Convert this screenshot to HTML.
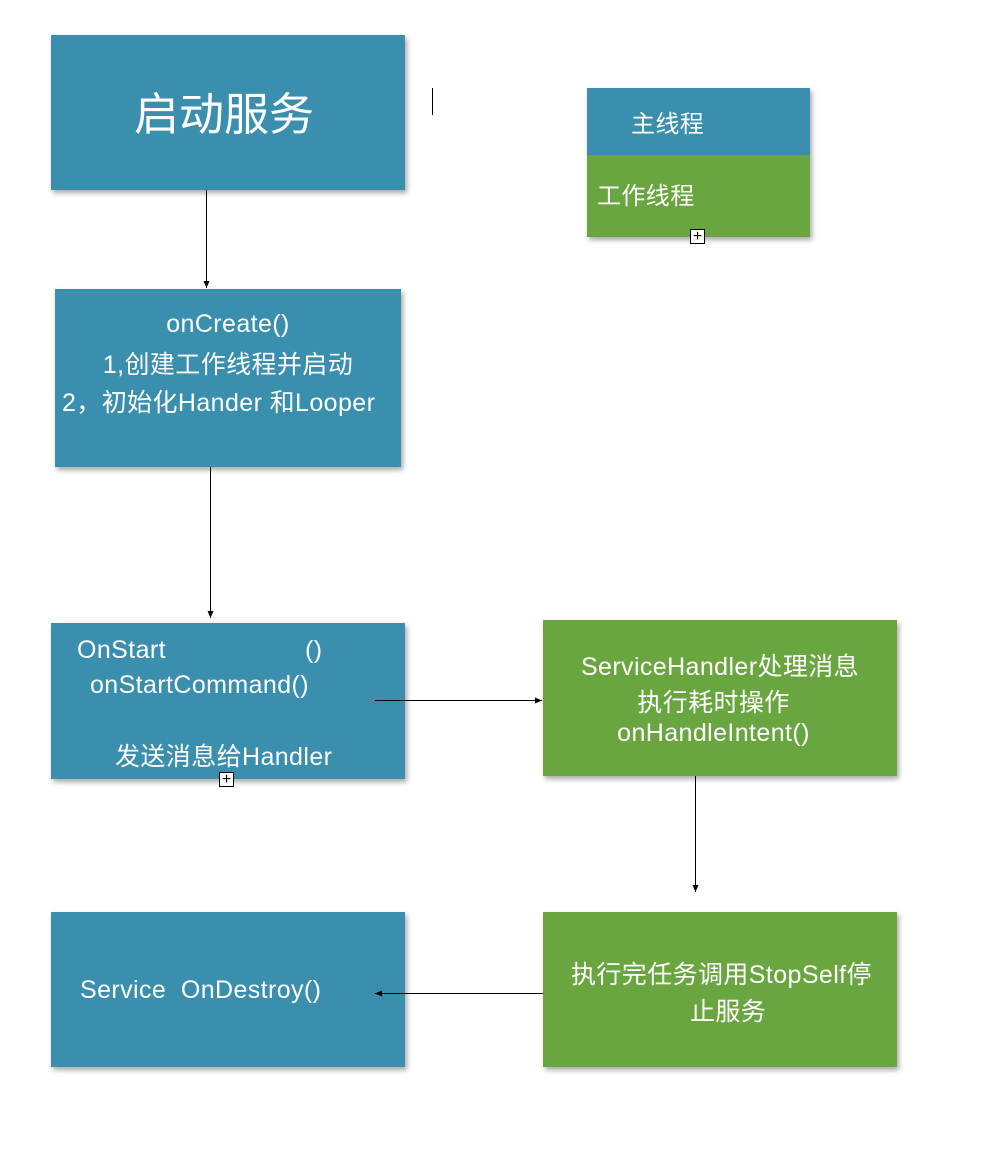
<!DOCTYPE html>
<html><head><meta charset="utf-8"><style>
body{margin:0;width:1000px;height:1174px;background:#fff;position:relative;overflow:hidden;font-family:"Liberation Sans","Noto Sans CJK SC",sans-serif;color:#fff}
.b{position:absolute;box-shadow:2px 3px 5px rgba(0,0,0,.35)}
.bl{background:#3a8fae}.gr{background:#6aa640}
.t{position:absolute;white-space:nowrap;font-size:25px;letter-spacing:0.4px}
.pl{position:absolute;width:15px;height:15px;border:1px solid #000;background:#fff;color:#000;font-size:16px;line-height:14px;text-align:center;box-sizing:border-box}
</style></head><body>
<div class="b bl" style="left:51px;top:35px;width:354px;height:155px"></div>
<div class="t" style="left:134px;top:78px;font-size:45px;letter-spacing:0">启动服务</div>
<div style="position:absolute;left:432px;top:88px;width:1px;height:27px;background:#000"></div>

<div class="b bl" style="left:587px;top:88px;width:223px;height:67px"></div>
<div class="b gr" style="left:587px;top:155px;width:223px;height:82px"></div>
<div class="t" style="left:631px;top:104px;font-size:24px">主线程</div>
<div class="t" style="left:597px;top:176px;font-size:24px">工作线程</div>
<div class="pl" style="left:690px;top:229px">+</div>

<div class="b bl" style="left:55px;top:289px;width:346px;height:178px"></div>
<div class="t" style="left:0;width:456px;text-align:center;top:310px">onCreate()</div>
<div class="t" style="left:0;width:456px;text-align:center;top:345px">1,创建工作线程并启动</div>
<div class="t" style="left:62px;top:383px">2，初始化Hander 和Looper</div>

<div class="b bl" style="left:51px;top:623px;width:354px;height:156px"></div>
<div class="t" style="left:77px;top:636px">OnStart</div>
<div class="t" style="left:305px;top:636px">()</div>
<div class="t" style="left:90px;top:671px">onStartCommand()</div>
<div class="t" style="left:115px;top:737px">发送消息给Handler</div>
<div class="pl" style="left:219px;top:772px">+</div>

<div class="b gr" style="left:543px;top:620px;width:354px;height:156px"></div>
<div class="t" style="left:543px;width:354px;text-align:center;top:647px">ServiceHandler处理消息</div>
<div class="t" style="left:543px;width:341px;text-align:center;top:683px">执行耗时操作</div>
<div class="t" style="left:543px;width:341px;text-align:center;top:719px">onHandleIntent()</div>

<div class="b bl" style="left:51px;top:912px;width:354px;height:155px"></div>
<div class="t" style="left:80px;top:976px">Service&nbsp;&nbsp;OnDestroy()</div>

<div class="b gr" style="left:543px;top:912px;width:354px;height:155px"></div>
<div class="t" style="left:571px;top:955px">执行完任务调用StopSelf停</div>
<div class="t" style="left:690px;top:992px">止服务</div>

<svg width="1000" height="1174" style="position:absolute;left:0;top:0">
<defs><marker id="a" markerWidth="8" markerHeight="8" refX="7" refY="4" orient="auto" markerUnits="userSpaceOnUse"><path d="M0,1 L7,4 L0,7z" fill="#000"/></marker></defs>
<g stroke="#000" stroke-width="1" fill="none" marker-end="url(#a)">
<line x1="206.5" y1="190" x2="206.5" y2="288"/>
<line x1="210.5" y1="467" x2="210.5" y2="618"/>
<line x1="375" y1="700.5" x2="542" y2="700.5"/>
<line x1="695.5" y1="776" x2="695.5" y2="892"/>
<line x1="543" y1="993.5" x2="375" y2="993.5"/>
</g></svg>
</body></html>
